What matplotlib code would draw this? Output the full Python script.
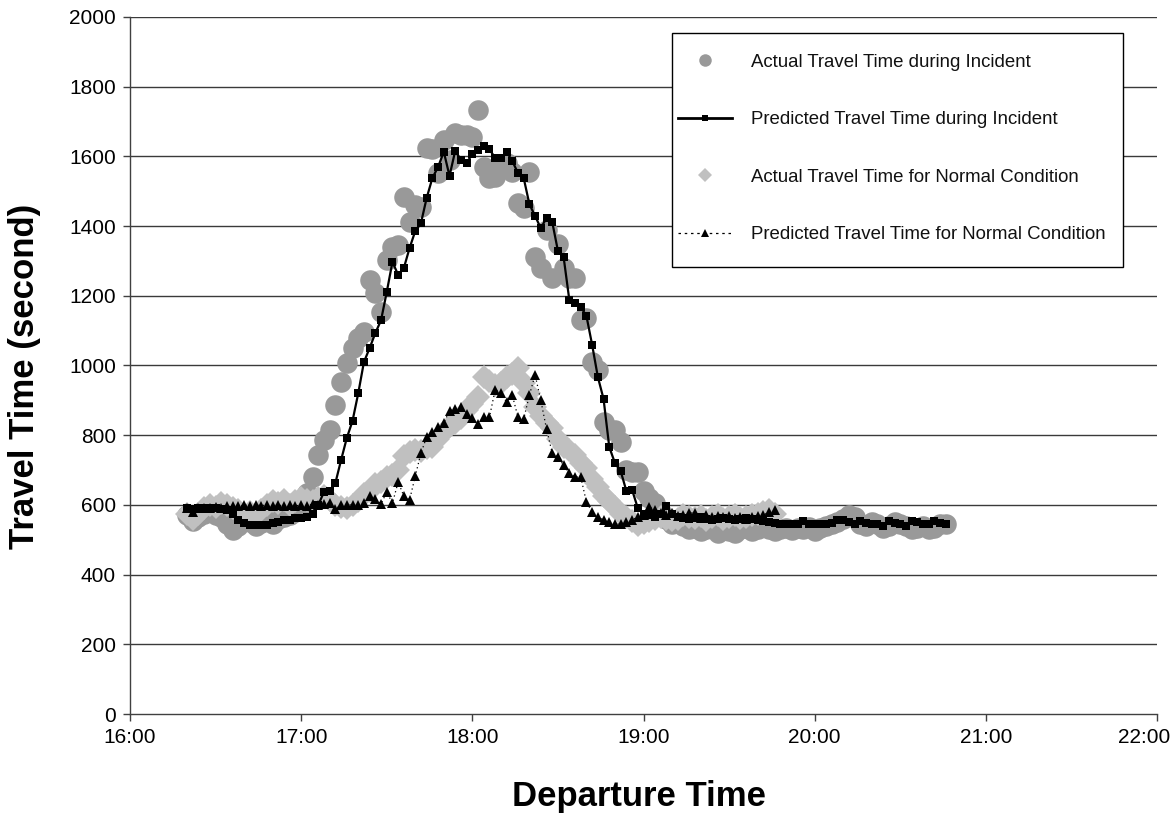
import matplotlib
matplotlib.use("Agg")
import matplotlib.pyplot as plt
import matplotlib.transforms as mtransforms
from matplotlib.lines import Line2D
from matplotlib.patches import Rectangle

plt.rcParams['font.family'] = ['Liberation Sans', 'DejaVu Sans']

# ---- data (minutes after 16:00, travel time in seconds) ----
hour_ticks = [0, 60, 120, 180, 240, 300, 360]
hour_labels = ["16:00", "17:00", "18:00", "19:00", "20:00", "21:00", "22:00"]
y_ticks = [0, 200, 400, 600, 800, 1000, 1200, 1400, 1600, 1800, 2000]

# Actual travel time during incident (t = 20..286 step 2)
inc_act_t = list(range(20, 288, 2))
inc_act = [570, 555, 565, 575, 580, 570, 565, 545, 528, 540,
           555, 550, 540, 548, 555, 545, 560, 565, 570, 580,
           590, 634, 680, 743, 787, 815, 887, 953, 1007, 1050,
           1079, 1096, 1245, 1208, 1153, 1303, 1340, 1346, 1483, 1412,
           1460, 1455, 1624, 1620, 1552, 1647, 1590, 1667, 1660, 1661,
           1656, 1733, 1570, 1538, 1541, 1576, 1580, 1555, 1466, 1452,
           1555, 1311, 1280, 1389, 1251, 1349, 1280, 1251, 1250, 1130,
           1136, 1010, 987, 838, 815, 815, 780, 700, 694, 694,
           640, 620, 605, 580, 560, 545, 550, 540, 530, 535,
           525, 530, 540, 520, 530, 525, 520, 530, 535, 525,
           530, 540, 530, 525, 530, 535, 528, 535, 530, 538,
           525, 535, 540, 545, 550, 560, 570, 565, 545, 540,
           550, 545, 535, 540, 550, 545, 540, 530, 535, 540,
           530, 535, 545, 545]

# Predicted travel time during incident (t = 20..286 step 2)
inc_pred_t = list(range(20, 288, 2))
inc_pred = [590, 588, 590, 592, 590, 592, 588, 585, 575, 558,
            548, 542, 542, 542, 542, 548, 551, 557, 557, 562,
            562, 565, 575, 600, 637, 640, 663, 729, 792, 841,
            920, 1010, 1050, 1093, 1130, 1211, 1297, 1260, 1280, 1337,
            1386, 1409, 1481, 1538, 1570, 1613, 1544, 1616, 1590, 1581,
            1607, 1618, 1630, 1621, 1595, 1595, 1613, 1587, 1552, 1538,
            1463, 1429, 1394, 1423, 1412, 1329, 1311, 1188, 1179, 1168,
            1142, 1059, 967, 904, 766, 720, 697, 640, 643, 591,
            575, 570, 565, 575, 597, 575, 565, 562, 560, 562,
            565, 560, 558, 560, 562, 560, 558, 560, 562, 560,
            558, 555, 552, 548, 545, 545, 545, 545, 555, 545,
            545, 545, 545, 548, 557, 557, 550, 545, 555, 548,
            545, 545, 540, 555, 548, 545, 540, 555, 550, 545,
            545, 555, 548, 545]

# Actual travel time for normal condition (t = 20..226 step 2)
nor_act_t = list(range(20, 228, 2))
nor_act = [575, 560, 575, 590, 600, 595, 605, 600, 590, 585,
           570, 580, 575, 585, 600, 610, 605, 615, 600, 610,
           620, 615, 610, 620, 625, 615, 600, 595, 590, 600,
           610, 630, 640, 660, 666, 680, 686, 700, 740, 752,
           758, 755, 762, 766, 790, 809, 825, 835, 850, 872,
           890, 910, 967, 955, 945, 950, 967, 975, 993, 950,
           920, 880, 855, 835, 821, 790, 765, 758, 743, 720,
           706, 675, 650, 625, 610, 595, 575, 565, 555, 542,
           548, 555, 560, 565, 560, 557, 560, 570, 565, 562,
           568, 557, 565, 570, 560, 565, 570, 562, 565, 570,
           575, 580, 585, 575]

# Predicted travel time for normal condition (t = 20..226 step 2)
nor_pred_t = list(range(20, 228, 2))
nor_pred = [591, 580, 590, 592, 590, 594, 592, 596, 598, 596,
            600, 597, 600, 598, 600, 597, 600, 596, 600, 597,
            600, 598, 602, 600, 603, 605, 588, 600, 600, 600,
            600, 605, 625, 617, 603, 637, 605, 666, 625, 614,
            683, 749, 795, 809, 824, 835, 870, 875, 881, 861,
            849, 832, 852, 852, 930, 921, 895, 915, 852, 846,
            915, 973, 900, 818, 749, 737, 714, 691, 680, 680,
            608, 580, 565, 557, 550, 545, 545, 551, 557, 565,
            571, 594, 585, 577, 571, 577, 568, 571, 577, 577,
            562, 571, 565, 568, 565, 568, 562, 565, 560, 565,
            568, 570, 580, 585]

labels = ["Actual Travel Time during Incident",
          "Predicted Travel Time during Incident",
          "Actual Travel Time for Normal Condition",
          "Predicted Travel Time for Normal Condition"]

# ---- figure ----
fig = plt.figure(figsize=(11.75, 8.13), dpi=100)
ax = fig.add_axes([130 / 1175, 1 - 714 / 813, 1027 / 1175, 697 / 813])

c_circ = '#999999'
c_diam = '#c0c0c0'

ax.plot(inc_act_t, inc_act, linestyle='none', marker='o', markersize=14.8,
        color=c_circ, markeredgewidth=0, zorder=3)
ax.plot(nor_act_t, nor_act, linestyle='none', marker='D', markersize=12.5,
        color=c_diam, markeredgewidth=0, zorder=4)
ax.plot(inc_pred_t, inc_pred, linestyle='-', linewidth=1.6, color='black',
        marker='s', markersize=5.5, markeredgewidth=0, zorder=5)
ax.plot(nor_pred_t, nor_pred, linestyle=(0, (1, 2.5)), linewidth=0.9, color='black',
        marker='^', markersize=6.5, markeredgewidth=0, zorder=6)

ax.set_xlim(0, 360)
ax.set_ylim(0, 2000)
ax.set_xticks(hour_ticks)
ax.set_xticklabels(hour_labels)
ax.set_yticks(y_ticks)
ax.tick_params(axis='both', labelsize=15, direction='out', length=5, width=1,
               color='#404040', labelcolor='black')
ax.tick_params(axis='y', pad=5)
ax.tick_params(axis='x', pad=5)

# shift the last x tick label left so it fits in the figure
last = ax.get_xticklabels()[-1]
last.set_transform(last.get_transform() +
                   mtransforms.ScaledTranslation(-13 / 100, 0, fig.dpi_scale_trans))

for v in y_ticks[1:]:
    ax.axhline(v, color='#3a3a3a', linewidth=1.0, zorder=1)

for s in ['top', 'right']:
    ax.spines[s].set_visible(False)
for s in ['left', 'bottom']:
    ax.spines[s].set_color('#404040')
    ax.spines[s].set_linewidth(1.0)

ax.set_xlabel("Departure Time", fontsize=25, fontweight='bold', va='top')
ax.xaxis.set_label_coords(0.4956, -0.094)
ax.set_ylabel("Travel Time (second)", fontsize=25, fontweight='bold', va='bottom')
ax.yaxis.set_label_coords(-0.087, 0.484)

# legend frame
ax.add_patch(Rectangle((0.5277, 0.6413), 0.9669 - 0.5277, 0.977 - 0.6413,
                       transform=ax.transAxes, facecolor='white', edgecolor='black',
                       linewidth=1.0, zorder=9))

handles = [
    Line2D([], [], linestyle='none', marker='o', markersize=9, color=c_circ, markeredgewidth=0),
    Line2D([], [], linestyle='-', linewidth=2, color='black', marker='s', markersize=5, markeredgewidth=0),
    Line2D([], [], linestyle='none', marker='D', markersize=7, color=c_diam, markeredgewidth=0),
    Line2D([], [], linestyle=(0, (2, 3)), linewidth=0.9, color='black', marker='^', markersize=6, markeredgewidth=0),
]
leg = ax.legend(handles, labels, loc='upper left', bbox_to_anchor=(0.5336, 0.947),
                fontsize=13.4, frameon=False, labelspacing=2.17, handlelength=2.9,
                handletextpad=1.0, borderpad=0, borderaxespad=0)
leg.set_zorder(10)
for t in leg.get_texts():
    t.set_color('#111111')

fig.savefig("out.png", dpi=100, facecolor='white')
